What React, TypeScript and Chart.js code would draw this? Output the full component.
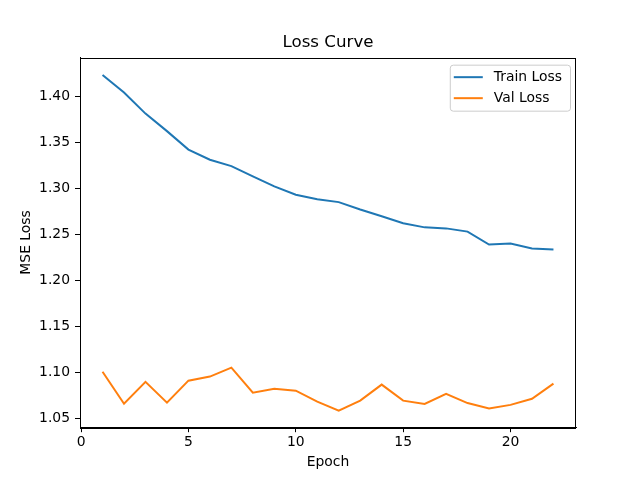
import React, { useEffect, useRef } from "react";
import { Chart, registerables } from "chart.js";

Chart.register(...registerables);

const epochs = [1, 2, 3, 4, 5, 6, 7, 8, 9, 10, 11, 12, 13, 14, 15, 16, 17, 18, 19, 20, 21, 22];
const trainLoss = [1.423, 1.404, 1.381, 1.362, 1.342, 1.331, 1.324, 1.313, 1.302, 1.293, 1.288, 1.285, 1.277, 1.2696, 1.262, 1.2576, 1.2565, 1.253, 1.239, 1.240, 1.2348, 1.2337];
const valLoss = [1.101, 1.0663, 1.090, 1.0674, 1.0913, 1.0957, 1.1054, 1.0783, 1.0826, 1.0804, 1.0685, 1.0587, 1.0696, 1.087, 1.0696, 1.066, 1.077, 1.067, 1.061, 1.065, 1.0717, 1.088];
const xTicks = [0, 5, 10, 15, 20];
const yTicks = [1.05, 1.1, 1.15, 1.2, 1.25, 1.3, 1.35, 1.4];

const FONT = "'DejaVu Sans', sans-serif";

const framePlugin = {
  id: "frame",
  afterDraw(chart: any) {
    const { ctx, chartArea } = chart;
    ctx.save();
    ctx.strokeStyle = "#000";
    ctx.lineWidth = 1;
    ctx.strokeRect(
      Math.round(chartArea.left) + 0.5,
      Math.round(chartArea.top) + 0.5,
      Math.round(chartArea.right - chartArea.left) - 1,
      Math.round(chartArea.bottom - chartArea.top)
    );
    ctx.restore();
  },
};

function roundRect(ctx: CanvasRenderingContext2D, x: number, y: number, w: number, h: number, r: number) {
  ctx.beginPath();
  ctx.moveTo(x + r, y);
  ctx.lineTo(x + w - r, y);
  ctx.arcTo(x + w, y, x + w, y + r, r);
  ctx.lineTo(x + w, y + h - r);
  ctx.arcTo(x + w, y + h, x + w - r, y + h, r);
  ctx.lineTo(x + r, y + h);
  ctx.arcTo(x, y + h, x, y + h - r, r);
  ctx.lineTo(x, y + r);
  ctx.arcTo(x, y, x + r, y, r);
  ctx.closePath();
}

const legendPlugin = {
  id: "mplLegend",
  afterDraw(chart: any) {
    const { ctx, chartArea } = chart;
    const sets = chart.data.datasets;
    ctx.save();
    ctx.font = `13.9px ${FONT}`;
    let maxText = 0;
    sets.forEach((d: any) => {
      maxText = Math.max(maxText, ctx.measureText(d.label).width);
    });
    const boxW = 4 + 29 + 11 + maxText + 8;
    const boxH = 46;
    const x = chartArea.right - 6 - boxW;
    const y = chartArea.top + 7;
    roundRect(ctx, x + 0.5, y + 0.5, boxW, boxH, 3);
    ctx.fillStyle = "rgba(255,255,255,0.8)";
    ctx.fill();
    ctx.strokeStyle = "#cccccc";
    ctx.lineWidth = 1;
    ctx.stroke();
    sets.forEach((d: any, i: number) => {
      const ly = y + 12.5 + i * 21;
      ctx.strokeStyle = d.borderColor;
      ctx.lineWidth = 2;
      ctx.beginPath();
      ctx.moveTo(x + 4, ly);
      ctx.lineTo(x + 33, ly);
      ctx.stroke();
      ctx.fillStyle = "#000";
      ctx.textBaseline = "middle";
      ctx.textAlign = "left";
      ctx.fillText(d.label, x + 44, ly);
    });
    ctx.restore();
  },
};

export default function App() {
  const ref = useRef<HTMLCanvasElement | null>(null);

  useEffect(() => {
    document.body.style.margin = "0";
    if (!ref.current) return;
    const chart = new Chart(ref.current, {
      type: "line",
      data: {
        datasets: [
          {
            label: "Train Loss",
            data: epochs.map((e, i) => ({ x: e, y: trainLoss[i] })),
            borderColor: "#1f77b4",
            backgroundColor: "#1f77b4",
            borderWidth: 2,
            pointRadius: 0,
            tension: 0,
          },
          {
            label: "Val Loss",
            data: epochs.map((e, i) => ({ x: e, y: valLoss[i] })),
            borderColor: "#ff7f0e",
            backgroundColor: "#ff7f0e",
            borderWidth: 2,
            pointRadius: 0,
            tension: 0,
          },
        ],
      },
      options: {
        responsive: false,
        animation: false,
        devicePixelRatio: 1,
        layout: { padding: { left: 0, right: 64, top: 0, bottom: 0 } },
        scales: {
          x: {
            type: "linear",
            min: -0.05,
            max: 23.05,
            afterFit(scale: any) {
              scale.height = 52.8;
            },
            afterBuildTicks(scale: any) {
              scale.ticks = xTicks.map((v) => ({ value: v }));
            },
            ticks: {
              color: "#000",
              font: { family: FONT, size: 13.9 },
              padding: 2,
              maxRotation: 0,
              callback: (v: any) => String(v),
            },
            grid: {
              display: true,
              drawOnChartArea: false,
              drawTicks: true,
              tickLength: 5,
              color: "#000",
            },
            border: { display: true, color: "#000" },
            title: {
              display: true,
              text: "Epoch",
              color: "#000",
              font: { family: FONT, size: 13.9, lineHeight: 1.2 },
              padding: { top: 0, bottom: 9.5 },
            },
          },
          y: {
            type: "linear",
            min: 1.0408,
            max: 1.4417,
            afterFit(scale: any) {
              scale.width = 80;
            },
            afterBuildTicks(scale: any) {
              scale.ticks = yTicks.map((v) => ({ value: v }));
            },
            ticks: {
              color: "#000",
              font: { family: FONT, size: 13.9 },
              padding: 5,
              callback: (v: any) => Number(v).toFixed(2),
            },
            grid: {
              display: true,
              drawOnChartArea: false,
              drawTicks: true,
              tickLength: 5,
              color: "#000",
            },
            border: { display: true, color: "#000" },
            title: {
              display: true,
              text: "MSE Loss",
              color: "#000",
              font: { family: FONT, size: 13.9, lineHeight: 1.2 },
              padding: { top: 18.5, bottom: 0 },
            },
          },
        },
        plugins: {
          title: {
            display: true,
            fullSize: false,
            text: "Loss Curve",
            color: "#000",
            font: { family: FONT, size: 16.67, weight: "normal", lineHeight: 1.0 },
            padding: { top: 34, bottom: 7 },
          },
          legend: { display: false },
          tooltip: { enabled: false },
        },
      },
      plugins: [framePlugin, legendPlugin],
    });
    return () => chart.destroy();
  }, []);

  return (
    <div style={{ width: 640, height: 480 }}>
      <canvas ref={ref} width={640} height={480} style={{ display: "block" }} />
    </div>
  );
}
